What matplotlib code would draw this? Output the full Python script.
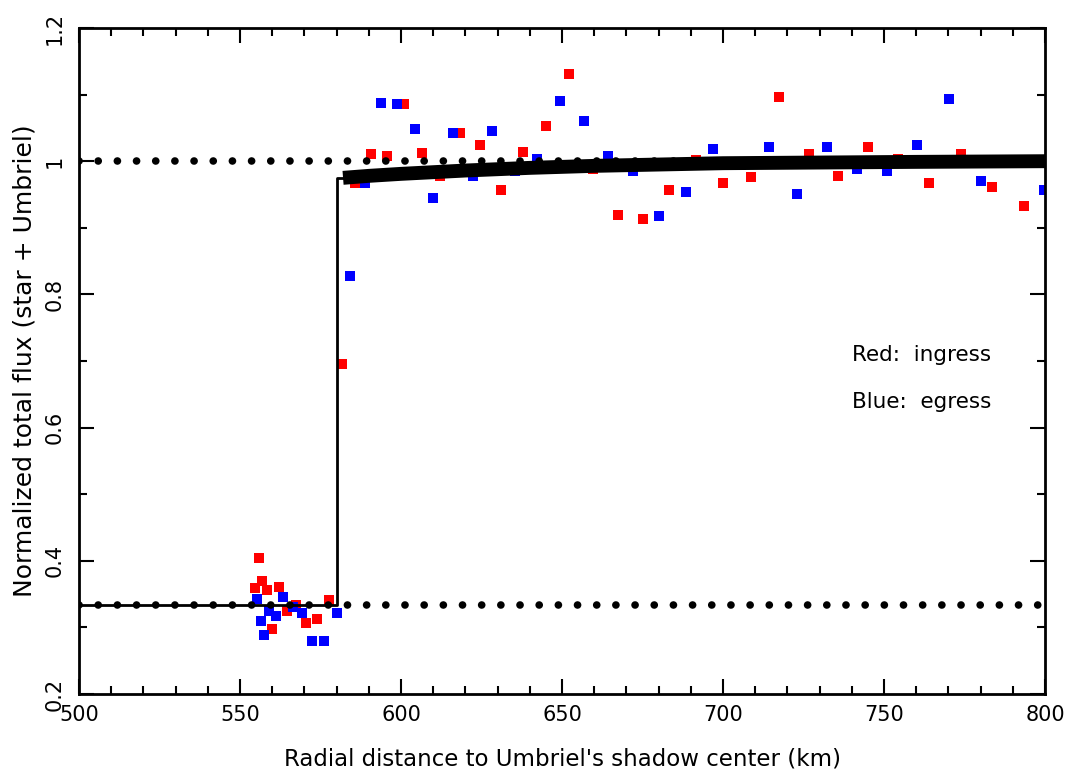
import matplotlib.pyplot as plt
import numpy as np

# ingress points (red)
red_x = [554.7, 555.9, 556.7, 558.3, 560.0, 562.1, 564.5, 567.3, 570.4, 573.8, 577.5,
         581.7, 585.7, 590.6, 595.5, 600.9, 606.4, 612.1, 618.3, 624.5, 631.1, 638.0,
         645.0, 652.3, 659.7, 667.5, 675.3, 683.3, 691.6, 700.1, 708.7, 717.5, 726.6,
         735.8, 745.1, 754.4, 764.1, 773.8, 783.6, 793.6]
red_y = [0.359, 0.404, 0.370, 0.356, 0.297, 0.360, 0.324, 0.334, 0.306, 0.313, 0.341,
         0.695, 0.967, 1.011, 1.008, 1.086, 1.013, 0.978, 1.043, 1.025, 0.957, 1.014,
         1.053, 1.131, 0.988, 0.919, 0.913, 0.957, 1.002, 0.968, 0.976, 1.097, 1.011,
         0.978, 1.022, 1.004, 0.968, 1.011, 0.961, 0.932]

# egress points (blue)
blue_x = [555.2, 556.4, 557.5, 559.1, 561.2, 563.5, 566.6, 569.2, 572.5, 576.1, 580.0,
          584.2, 588.8, 593.7, 598.9, 604.3, 609.9, 616.0, 622.2, 628.4, 635.4, 642.3,
          649.4, 656.8, 664.4, 672.1, 680.2, 688.5, 697.0, 705.6, 714.3, 723.1, 732.2,
          741.5, 750.8, 760.3, 770.2, 780.0, 789.6, 799.8]
blue_y = [0.342, 0.310, 0.289, 0.324, 0.317, 0.346, 0.331, 0.322, 0.279, 0.279, 0.322,
          0.828, 0.967, 1.088, 1.086, 1.048, 0.944, 1.042, 0.978, 1.046, 0.986, 1.004,
          1.090, 1.060, 1.008, 0.986, 0.917, 0.954, 1.018, 0.994, 1.021, 0.951, 1.022,
          0.989, 0.986, 1.024, 1.094, 0.970, 0.999, 0.957]

# sharp-edge step and model curve
step_x = [500, 580, 580, 583]
step_y = [0.333, 0.333, 0.975, 0.975]
model_x = [582, 590, 600, 620, 640, 660, 680, 700, 730, 760, 800]
model_y = [0.975, 0.978, 0.981, 0.986, 0.990, 0.993, 0.995, 0.997, 0.998, 0.999, 1.0]

plt.rcParams['font.family'] = ['DejaVu Sans']
fig = plt.figure(figsize=(10.69, 7.78), dpi=100)
ax = fig.add_axes([0.0739, 0.108, 0.9037, 0.856])

ax.scatter(red_x, red_y, marker='s', s=62, color='#ff0000', linewidths=0, zorder=2)
ax.scatter(blue_x, blue_y, marker='s', s=62, color='#0000ff', linewidths=0, zorder=2)

dots = dict(color='black', lw=5.5, linestyle=(0, (0.01, 2.5)),
            dash_capstyle='round', zorder=3)
ax.plot([500, 798], [1.0, 1.0], **dots)
ax.plot([500, 798], [0.333, 0.333], **dots)

ax.plot(step_x, step_y, color='black', lw=2, zorder=4)
ax.plot(model_x, model_y, color='black', lw=10, solid_capstyle='butt', zorder=4)

ax.text(740, 0.709, 'Red:  ingress', fontsize=15.5, va='center')
ax.text(740, 0.638, 'Blue:  egress', fontsize=15.5, va='center')

ax.set_xlim(500, 800)
ax.set_ylim(0.2, 1.2)
ax.set_xticks(np.arange(500, 801, 50))
ax.set_xticks(np.arange(500, 801, 10), minor=True)
ax.set_yticks([0.2, 0.4, 0.6, 0.8, 1.0, 1.2])
ax.set_yticklabels(['0.2', '0.4', '0.6', '0.8', '1', '1.2'], rotation=90, va='center')
ax.set_yticks(np.arange(0.2, 1.21, 0.1), minor=True)
ax.tick_params(which='both', direction='in', top=True, right=True, width=1.5,
               labelsize=15)
ax.tick_params(which='major', length=11)
ax.tick_params(which='minor', length=6)
ax.tick_params(axis='x', pad=8)
ax.tick_params(axis='y', pad=10)
for s in ax.spines.values():
    s.set_linewidth(2)

ax.set_xlabel("Radial distance to Umbriel's shadow center (km)", fontsize=16.5, labelpad=16)
ax.set_ylabel('Normalized total flux (star + Umbriel)', fontsize=18, labelpad=6)

fig.savefig('out.png', dpi=100)
